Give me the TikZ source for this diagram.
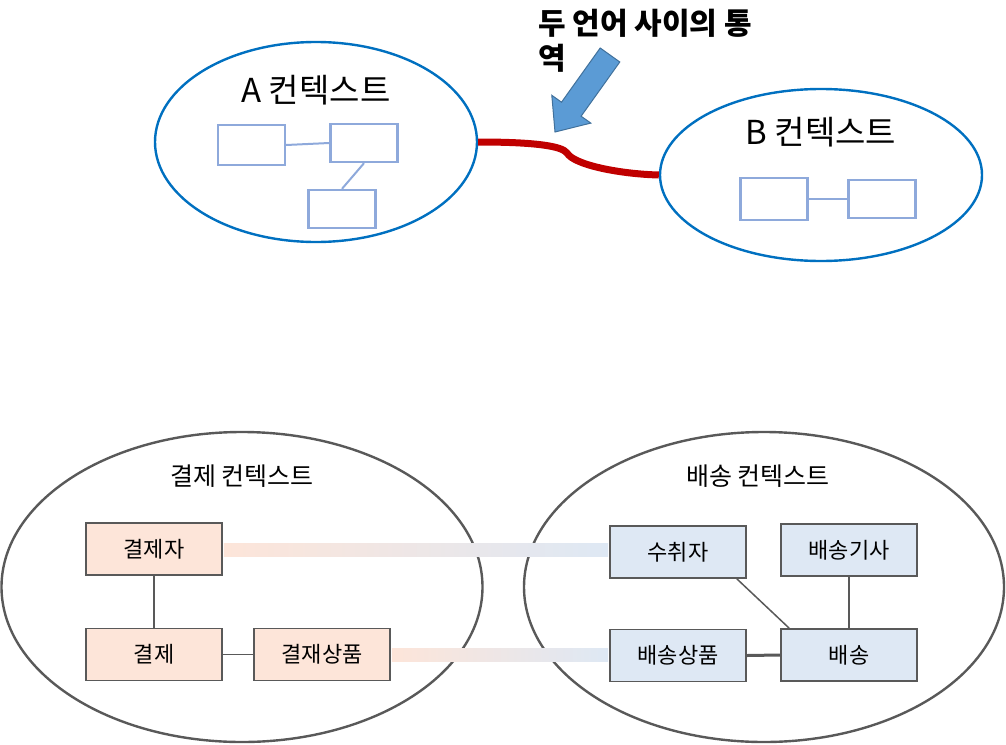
\documentclass[tikz,border=0pt]{standalone}
\usepackage{fontspec}
\setmainfont{Noto Sans CJK KR}
\usepackage{tikz}
\usetikzlibrary{shapes.geometric, positioning, calc}
\definecolor{ctxblue}{HTML}{0070C0}
\definecolor{boxblue}{HTML}{8EA9DB}
\definecolor{bridgered}{HTML}{C00000}
\definecolor{arrowfill}{HTML}{5B9BD5}
\definecolor{arrowline}{HTML}{41719C}
\definecolor{darkgray}{HTML}{595959}
\definecolor{peach}{HTML}{FDE5D9}
\definecolor{paleblue}{HTML}{DEE8F4}

\begin{document}
\begin{tikzpicture}[x=1pt, y=-1pt,
    ctx/.style={draw=ctxblue, line width=2.4pt, ellipse, inner sep=0pt},
    bigctx/.style={draw=darkgray, line width=2.4pt, ellipse, inner sep=0pt},
    title/.style={font=\fontsize{33}{36}\selectfont},
    subtitle/.style={font=\fontsize{25}{28}\selectfont},
    tiny/.style={draw=boxblue, line width=2.4pt, minimum width=67pt, minimum height=40pt, inner sep=0pt},
    tinylink/.style={draw=boxblue, line width=2pt},
    ent/.style={draw=darkgray, line width=1.8pt, minimum width=136pt, minimum height=52pt, inner sep=0pt, font=\fontsize{22}{24}\selectfont},
    link/.style={draw=darkgray, line width=1.5pt}]
\useasboundingbox (0,0) rectangle (1006,744);

% A / B contexts
\node[ctx, minimum width=322pt, minimum height=200pt] (ctxA) at (316,142) {};
\node[title] (titleA) at (316,90) {A 컨텍스트};
\node[tiny] (a1) at (251.5,145) {};
\node[tiny, minimum height=38pt] (a2) at (364,143) {};
\node[tiny, minimum height=38pt] (a3) at (342,209) {};
\draw[tinylink] (a1.east) -- (a2.west);
\draw[tinylink] (a2.south) -- (a3.north);

\node[ctx, minimum width=322pt, minimum height=172pt] (ctxB) at (821,175) {};
\node[title] (titleB) at (821,132) {B 컨텍스트};
\node[tiny, minimum height=42pt] (b1) at (774,199) {};
\node[tiny, minimum height=38pt] (b2) at (882,199) {};
\draw[tinylink] (b1.east) -- (b2.west);

% translation between them
\draw[bridgered, line width=7pt] (ctxA.east) .. controls (535,142) and (562,146) .. (567,153)
    .. controls (574,165) and (620,174) .. (ctxB.west);
\draw[fill=arrowfill, draw=arrowline, line width=1pt, line join=miter]
    (555,132) -- (551.8,95.3) -- (561.5,102.2) -- (600.2,48) -- (619.8,62)
    -- (581.1,116.2) -- (590.8,123.1) -- cycle;
\node[anchor=north west, align=left, inner sep=0pt, font=\fontsize{30}{35}\selectfont\bfseries] (note) at (538,9) {두 언어 사이의 통\\역};

% payment context
\node[bigctx, minimum width=481pt, minimum height=310pt] (pay) at (242,587) {};
\node[subtitle] (payTitle) at (242,476) {결제 컨텍스트};
\node[ent, fill=peach] (payer) at (154,549) {결제자};
\node[ent, fill=peach] (payment) at (154,654.5) {결제};
\node[ent, fill=peach] (payItem) at (322,654.5) {결재상품};
\draw[link] (payer.south) -- (payment.north);
\draw[link] (payment.east) -- (payItem.west);

% delivery context
\node[bigctx, minimum width=480pt, minimum height=310pt] (ship) at (764,587) {};
\node[subtitle] (shipTitle) at (758,476) {배송 컨텍스트};
\node[ent, fill=paleblue] (receiver) at (678,552) {수취자};
\node[ent, fill=paleblue] (driver) at (849,550) {배송기사};
\node[ent, fill=paleblue] (shipItem) at (678,655.5) {배송상품};
\node[ent, fill=paleblue] (delivery) at (849,655) {배송};
\draw[link] ($(receiver.south east)+(-10,0)$) -- ($(delivery.north west)+(9,0)$);
\draw[link] (driver.south) -- (delivery.north);
\draw[link, line width=3pt] (shipItem.east) -- (delivery.west);

% mappings between contexts
\shade[left color=peach, right color=paleblue] ($(payer.east)+(1,-6)$) rectangle ($(receiver.west)+(-1,4)$);
\shade[left color=peach, right color=paleblue] ($(payItem.east)+(1,-6)$) rectangle ($(shipItem.west)+(-1,6)$);
\end{tikzpicture}
\end{document}
